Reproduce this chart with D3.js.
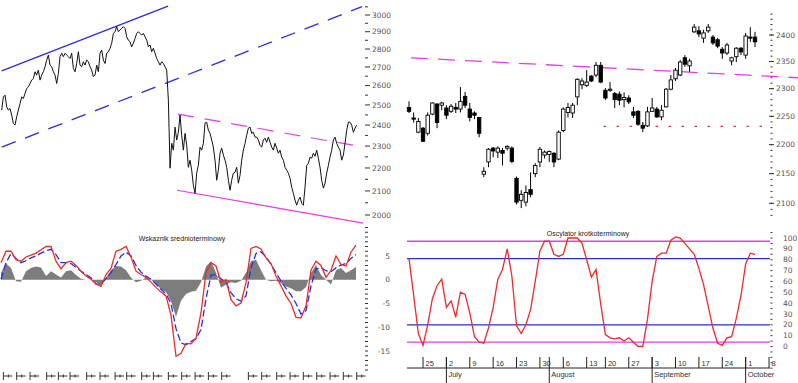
<!DOCTYPE html>
<html><head><meta charset="utf-8">
<script src="https://cdn.jsdelivr.net/npm/d3@7"></script>
<style>body{margin:0;background:#fff}svg{display:block}</style>
</head><body>
<svg id="c" width="798" height="383"></svg>
<script>
// ---------- LEFT: long-term index line ----------
const wigLine = [
2474,2541,2550,2490,2474,2482,2449,2408,2400,2441,2474,2507,2541,2533,2559,2585,2593,2611,2629,2638,
2674,2656,2683,2629,2656,2674,2701,2738,2766,2710,2701,2674,2656,2611,2665,2757,2776,2757,2776,2766,
2757,2747,2776,2692,2674,2719,2785,2710,2701,2729,2710,2738,2729,2701,2683,2647,2656,2710,2674,2776,
2794,2738,2719,2776,2785,2804,2833,2890,2900,2930,2900,2910,2920,2930,2920,2870,2851,2841,2813,2833,
2861,2890,2900,2890,2880,2890,2870,2851,2813,2823,2785,2804,2776,2747,2729,2710,2729,2719,2701,2683,
2524,2199,2313,2281,2390,2328,2365,2449,
2351,2281,2360,2304,2203,2235,2190,2124,2090,2177,2212,2295,2281,2313,2410,2414,2375,2360,2328,2295,
2235,2146,2190,2267,2290,2258,2235,2203,2146,2103,2146,2177,2181,2203,2133,2168,2235,2281,2313,2351,
2385,2390,2360,2365,2342,2342,2328,2304,2295,2328,2337,2318,2342,2318,2295,2281,2313,2290,2267,2281,
2249,2235,2203,2190,2177,2155,2116,2090,2061,2040,2061,2074,2048,2040,2116,2212,2221,2249,2244,2267,
2253,2281,2244,2203,2146,2112,2133,2177,2212,2249,2281,2328,2342,2313,2295,2281,2235,2258,2313,2375,
2414,2414,2400,2365,2385,2400];
const leftPriceTicks = [2000,2100,2200,2300,2400,2500,2600,2700,2800,2900,3000];
const leftMinorTicks = [1950,2050,2150,2250,2350,2450,2550,2650,2750,2850,2950,3050];
// trend lines: [index, price]
const blueChannelTop = [[0,2679],[99.8,3055]];
const blueChannelLow = [[0,2295],[216.2,3051]];
const pinkChannelTop = [[105.8,2454],[210.8,2304]];
const pinkChannelLow = [[105.2,2103],[216.8,1967]];
const leftDateTicks = [1,9,17,27,34,41,51,59,68,75,84,91,100,108,116,124,132,148,156,165,173,181,189,197,205,213];

// ---------- LEFT: medium-term indicator ----------
const macdLine = [3.6,6.0,6.0,4.2,3.9,4.8,5.2,5.6,6.3,7.0,7.0,3.9,2.3,3.6,3.9,3.0,1.8,0.8,0.1,-0.9,
-1.4,1.1,2.4,6.0,6.4,7.0,4.8,1.8,1.1,0.5,-0.5,-1.6,-2.6,-3.4,-7.5,-16.1,-15.5,-13.4,-13.5,-12.3,
-7,1.6,3.6,2.9,-0.5,0,-4.2,-5.5,-4.9,-0.6,6.6,7.0,6.5,4.6,3.4,0.8,-1.3,-3.4,-5,-7.9,
-8,-5.5,2,3.9,3,0.5,2,5,3.2,2.9,5.8,7.3];
const signalLine = [0.1,3.6,5.5,4.5,3.6,4.0,4.6,5.0,5.6,6.1,6.4,5.3,3.6,3.6,3.4,2.6,1.8,1.1,0.4,-0.9,
-0.9,0.2,1.5,3.2,5.0,5.8,5.0,3.0,1.6,0.8,0.1,-0.9,-2,-3,-5,-10.3,-13.3,-13.7,-13.0,-12.4,
-10.5,-4,1,1.1,0.2,-0.6,-2.7,-4,-4.5,-3.4,2.5,5.5,5.9,4.8,3.2,1.5,-0.3,-1.8,-3.2,-5,
-7.2,-6.5,-1.3,2.3,2.5,1.9,1.7,2.5,3.1,3.4,4.5,5.3];
const macdHist = [1.5,3.5,2.5,-0.3,-0.4,1.8,2.5,2.8,2.6,0.8,1.8,1.1,0.5,1.8,2.0,1.0,0.2,0,0,-0.5,
-1.2,0.5,2.0,2.9,2.8,2.0,0.5,-0.5,-0.2,0.5,0,-0.9,-2,-2.6,-4.5,-7.8,-4.4,-3,-2.5,-2.3,
-0.5,2.8,3.9,1.5,-1.7,-1,-0.5,-0.7,-0.2,1.5,3.9,4.2,2,0,-0.3,-0.2,-0.7,-1.4,-1.8,-2.4,
-2.4,-1.5,1.4,3.1,1,0,-1,2,2.5,1.4,2,2.7];
const macdTicks = [5,0,-5,-10,-15];

// ---------- RIGHT: daily candles ----------
const candleOpen  = [2266,2247,2222,2229,2220,2254,2272,2270,2265,2259,2266,2263,2286,2263,2256,2248,2149,2170,2194,2187,
2190,2194,2194,2142,2105,2102,2123,2150,2170,2182,2183,2185,2175,2225,2257,2256,2285,2307,2306,2323,
2325,2343,2297,2297,2291,2290,2280,2283,2258,2259,2234,2233,2259,2263,2249,2267,2299,2318,2325,2357,
2342,2406,2408,2394,2408,2396,2391,2373,2366,2351,2359,2375,2362,2396,2396];
const candleHigh  = [2277,2257,2247,2231,2257,2275,2274,2276,2270,2272,2274,2303,2294,2274,2259,2249,2161,2194,2196,2197,
2194,2199,2197,2145,2122,2130,2152,2168,2196,2190,2190,2187,2225,2266,2274,2274,2319,2319,2334,2325,
2349,2349,2301,2312,2294,2295,2293,2288,2267,2261,2240,2267,2283,2267,2270,2301,2325,2338,2353,2362,
2355,2421,2417,2410,2421,2400,2394,2377,2385,2359,2377,2377,2404,2415,2406];
const candleLow   = [2256,2239,2220,2205,2216,2252,2229,2261,2245,2256,2256,2257,2265,2241,2245,2213,2144,2161,2178,2177,
2164,2190,2168,2098,2092,2095,2110,2144,2161,2176,2170,2161,2173,2222,2248,2247,2270,2299,2303,2312,
2321,2310,2279,2294,2265,2270,2266,2272,2247,2233,2222,2231,2258,2247,2243,2266,2297,2314,2323,2340,
2331,2404,2396,2385,2404,2381,2375,2355,2362,2343,2349,2362,2355,2387,2377];
const candleClose = [2259,2245,2241,2206,2252,2274,2239,2274,2252,2268,2263,2277,2270,2248,2252,2220,2154,2192,2189,2194,
2185,2197,2171,2102,2115,2118,2115,2164,2192,2187,2188,2170,2222,2263,2266,2270,2317,2314,2312,2314,
2343,2312,2283,2299,2280,2279,2284,2276,2252,2236,2229,2258,2265,2249,2261,2299,2316,2334,2349,2345,
2351,2415,2402,2404,2415,2385,2379,2366,2381,2357,2375,2368,2398,2394,2387];
const rightPriceTicks = [2100,2150,2200,2250,2300,2350,2400];
const resistanceLine = [[0.43,2357],[83.2,2320]];
const supportLevel = [[41.6,2232],[76.2,2232]];

// ---------- RIGHT: short-term oscillator ----------
const oscValues = [81,47,12,1,20,44,56,62,36,42,27,50,48,31,9,4,3,17,36,62,
71,90,65,19,12,20,34,60,88,97,97,85,83,85,100,100,100,95,80,64,
71,39,11,8,7,8,5,8,4,0,0,25,60,83,86,86,98,101,100,95,
90,85,72,57,37,17,3,1,8,9,26,47,76,86,85];
const oscTicks = [100,90,80,70,60,50,40,30,20,10,0];
const oscOuterLevels = [97,4];
const oscInnerLevels = [81,20];
const weekLabels = ["25","2","9","16","23","30","6","13","20","27","3","10","17","24","1","8"];
const weekIndex  = [3,8,13,18,23,28,33,38,42,47,52,57,62,67,72,77];
const monthLabels = ["July","August","September","October"];
const monthIndex  = [8,30,52,72];

const svg = d3.select("#c");
const BLUE = "#2b2be6", PINK = "#e33de3", RED = "#ee2a2a", GRAY = "#555";
const num = "DejaVu Sans, sans-serif", txt = "Liberation Sans, Arial, sans-serif";

// ===== Left top =====
const xL = d3.scaleLinear().domain([0, wigLine.length - 1]).range([1.7, 356.7]);
const yL = d3.scaleLog().domain([2000, 3000]).range([215, 15]);
const gLT = svg.append("g");
const seg = d3.line().x(d => xL(d[0])).y(d => yL(d[1]));
gLT.append("path").attr("d", seg(blueChannelTop)).attr("stroke", BLUE).attr("stroke-width", 1.3).attr("fill", "none");
gLT.append("path").attr("d", seg(blueChannelLow)).attr("stroke", BLUE).attr("stroke-width", 1.3).attr("fill", "none").attr("stroke-dasharray", "15,10");
gLT.append("path").attr("d", seg(pinkChannelTop)).attr("stroke", PINK).attr("stroke-width", 1.2).attr("fill", "none").attr("stroke-dasharray", "16,11");
gLT.append("path").attr("d", seg(pinkChannelLow)).attr("stroke", PINK).attr("stroke-width", 1.2).attr("fill", "none");
gLT.append("path").datum(wigLine)
  .attr("d", d3.line().x((d, i) => xL(i)).y(d => yL(d)))
  .attr("fill", "none").attr("stroke", "#111").attr("stroke-width", 1);
leftMinorTicks.forEach(v => gLT.append("line").attr("x1", 365).attr("x2", 368).attr("y1", yL(v)).attr("y2", yL(v)).attr("stroke", "#333"));
leftPriceTicks.forEach(v => {
  gLT.append("line").attr("x1", 365).attr("x2", 370).attr("y1", yL(v)).attr("y2", yL(v)).attr("stroke", "#333");
  gLT.append("text").attr("x", 372).attr("y", yL(v)).attr("dy", "0.35em").attr("font-family", num)
    .attr("font-size", 7.5).attr("fill", GRAY).text(v);
});

// ===== Left bottom =====
const xM = d3.scaleLinear().domain([0, macdLine.length - 1]).range([1, 356]);
const yM = d3.scaleLinear().domain([-15, 5]).range([351, 256]);
const gLB = svg.append("g");
gLB.append("path").datum(macdHist)
  .attr("d", d3.area().x((d, i) => xM(i)).y0(yM(0)).y1(d => yM(d)))
  .attr("fill", "#7d7d7d");
gLB.append("path").datum(signalLine)
  .attr("d", d3.line().x((d, i) => xM(i)).y(d => yM(d)))
  .attr("fill", "none").attr("stroke", BLUE).attr("stroke-width", 1.3).attr("stroke-dasharray", "7,3");
gLB.append("path").datum(macdLine)
  .attr("d", d3.line().x((d, i) => xM(i)).y(d => yM(d)))
  .attr("fill", "none").attr("stroke", RED).attr("stroke-width", 1.3);
d3.range(-19, 11).forEach(v => gLB.append("line").attr("x1", 365).attr("x2", 368).attr("y1", yM(v)).attr("y2", yM(v)).attr("stroke", "#333"));
macdTicks.forEach(v => gLB.append("text").attr("x", 390).attr("y", yM(v)).attr("dy", "0.35em")
  .attr("text-anchor", "end").attr("font-family", num).attr("font-size", 7.5).attr("fill", GRAY).text(v));
gLB.append("text").attr("x", 182).attr("y", 240.5).attr("text-anchor", "middle").attr("font-family", txt)
  .attr("font-size", 7).attr("fill", "#222").text("Wskaznik srednioterminowy");
leftDateTicks.forEach(v => {
  const x = xL(v);
  gLB.append("line").attr("x1", x).attr("x2", x).attr("y1", 372).attr("y2", 380).attr("stroke", "#333");
  gLB.append("line").attr("x1", x).attr("x2", x + 9).attr("y1", 376).attr("y2", 376).attr("stroke", "#333");
  gLB.append("line").attr("x1", x + 5).attr("x2", x + 5).attr("y1", 374.5).attr("y2", 377.5).attr("stroke", "#333");
});

// ===== Right top: candles =====
const xR = d3.scaleLinear().domain([0, candleOpen.length - 1]).range([409, 755]);
const yR = d3.scaleLog().domain([2100, 2400]).range([203.3, 35]);
const gRT = svg.append("g");
const segR = d3.line().x(d => xR(d[0])).y(d => yR(d[1]));
gRT.append("path").attr("d", segR(resistanceLine)).attr("stroke", PINK).attr("stroke-width", 1.3).attr("fill", "none").attr("stroke-dasharray", "17,10");
gRT.append("path").attr("d", segR(supportLevel)).attr("stroke", RED).attr("stroke-width", 1.3).attr("fill", "none").attr("stroke-dasharray", "2.5,10.5");
candleOpen.forEach((o, i) => {
  const c = candleClose[i], x = xR(i);
  gRT.append("line").attr("x1", x).attr("x2", x).attr("y1", yR(candleHigh[i])).attr("y2", yR(candleLow[i])).attr("stroke", "#000");
  const top = yR(Math.max(o, c)), bot = yR(Math.min(o, c));
  gRT.append("rect").attr("x", x - 1.7).attr("y", top).attr("width", 3.4).attr("height", Math.max(1, bot - top))
    .attr("fill", c < o ? "#000" : "#fff").attr("stroke", "#000").attr("stroke-width", 0.9);
});
d3.range(2080, 2450, 10).forEach(v => gRT.append("line").attr("x1", 770.5).attr("x2", 772.5).attr("y1", yR(v)).attr("y2", yR(v)).attr("stroke", "#333"));
rightPriceTicks.forEach(v => {
  gRT.append("line").attr("x1", 769).attr("x2", 774).attr("y1", yR(v)).attr("y2", yR(v)).attr("stroke", "#333");
  gRT.append("text").attr("x", 776).attr("y", yR(v)).attr("dy", "0.35em").attr("font-family", num)
    .attr("font-size", 7.5).attr("fill", GRAY).text(v);
});

// ===== Right bottom: oscillator =====
const yO = d3.scaleLinear().domain([0, 100]).range([346.5, 238]);
const gRB = svg.append("g");
oscOuterLevels.forEach(v => gRB.append("line").attr("x1", 407).attr("x2", 770).attr("y1", yO(v)).attr("y2", yO(v)).attr("stroke", PINK).attr("stroke-width", 1.3));
oscInnerLevels.forEach(v => gRB.append("line").attr("x1", 407).attr("x2", 770).attr("y1", yO(v)).attr("y2", yO(v)).attr("stroke", "#2233cc").attr("stroke-width", 1.3));
gRB.append("path").datum(oscValues)
  .attr("d", d3.line().x((d, i) => xR(i)).y(d => yO(d)))
  .attr("fill", "none").attr("stroke", RED).attr("stroke-width", 1.3);
d3.range(-20, 106, 5).forEach(v => gRB.append("line").attr("x1", 770.5).attr("x2", 772.5).attr("y1", yO(v)).attr("y2", yO(v)).attr("stroke", "#333"));
oscTicks.forEach(v => gRB.append("text").attr("x", 783).attr("y", yO(v)).attr("dy", "0.35em").attr("font-family", num)
  .attr("font-size", 7.5).attr("fill", GRAY).text(v));
gRB.append("text").attr("x", 588).attr("y", 236).attr("text-anchor", "middle").attr("font-family", txt)
  .attr("font-size", 7).attr("fill", "#222").text("Oscylator krotkoterminowy");
// date axis
gRB.append("line").attr("x1", 407).attr("x2", 770).attr("y1", 368).attr("y2", 368).attr("stroke", "#222");
weekIndex.forEach((v, k) => {
  const x = xR(v);
  gRB.append("line").attr("x1", x).attr("x2", x).attr("y1", 357).attr("y2", 368).attr("stroke", "#222");
  gRB.append("text").attr("x", x + 2.5).attr("y", 366).attr("font-family", txt).attr("font-size", 7.5).attr("fill", "#333").text(weekLabels[k]);
});
monthIndex.forEach((v, k) => {
  const x = xR(v);
  gRB.append("line").attr("x1", x).attr("x2", x).attr("y1", 357).attr("y2", 383).attr("stroke", "#222");
  gRB.append("text").attr("x", x + 2).attr("y", 377).attr("font-family", txt).attr("font-size", 7.5).attr("fill", "#333").text(monthLabels[k]);
});
</script>
</body></html>
